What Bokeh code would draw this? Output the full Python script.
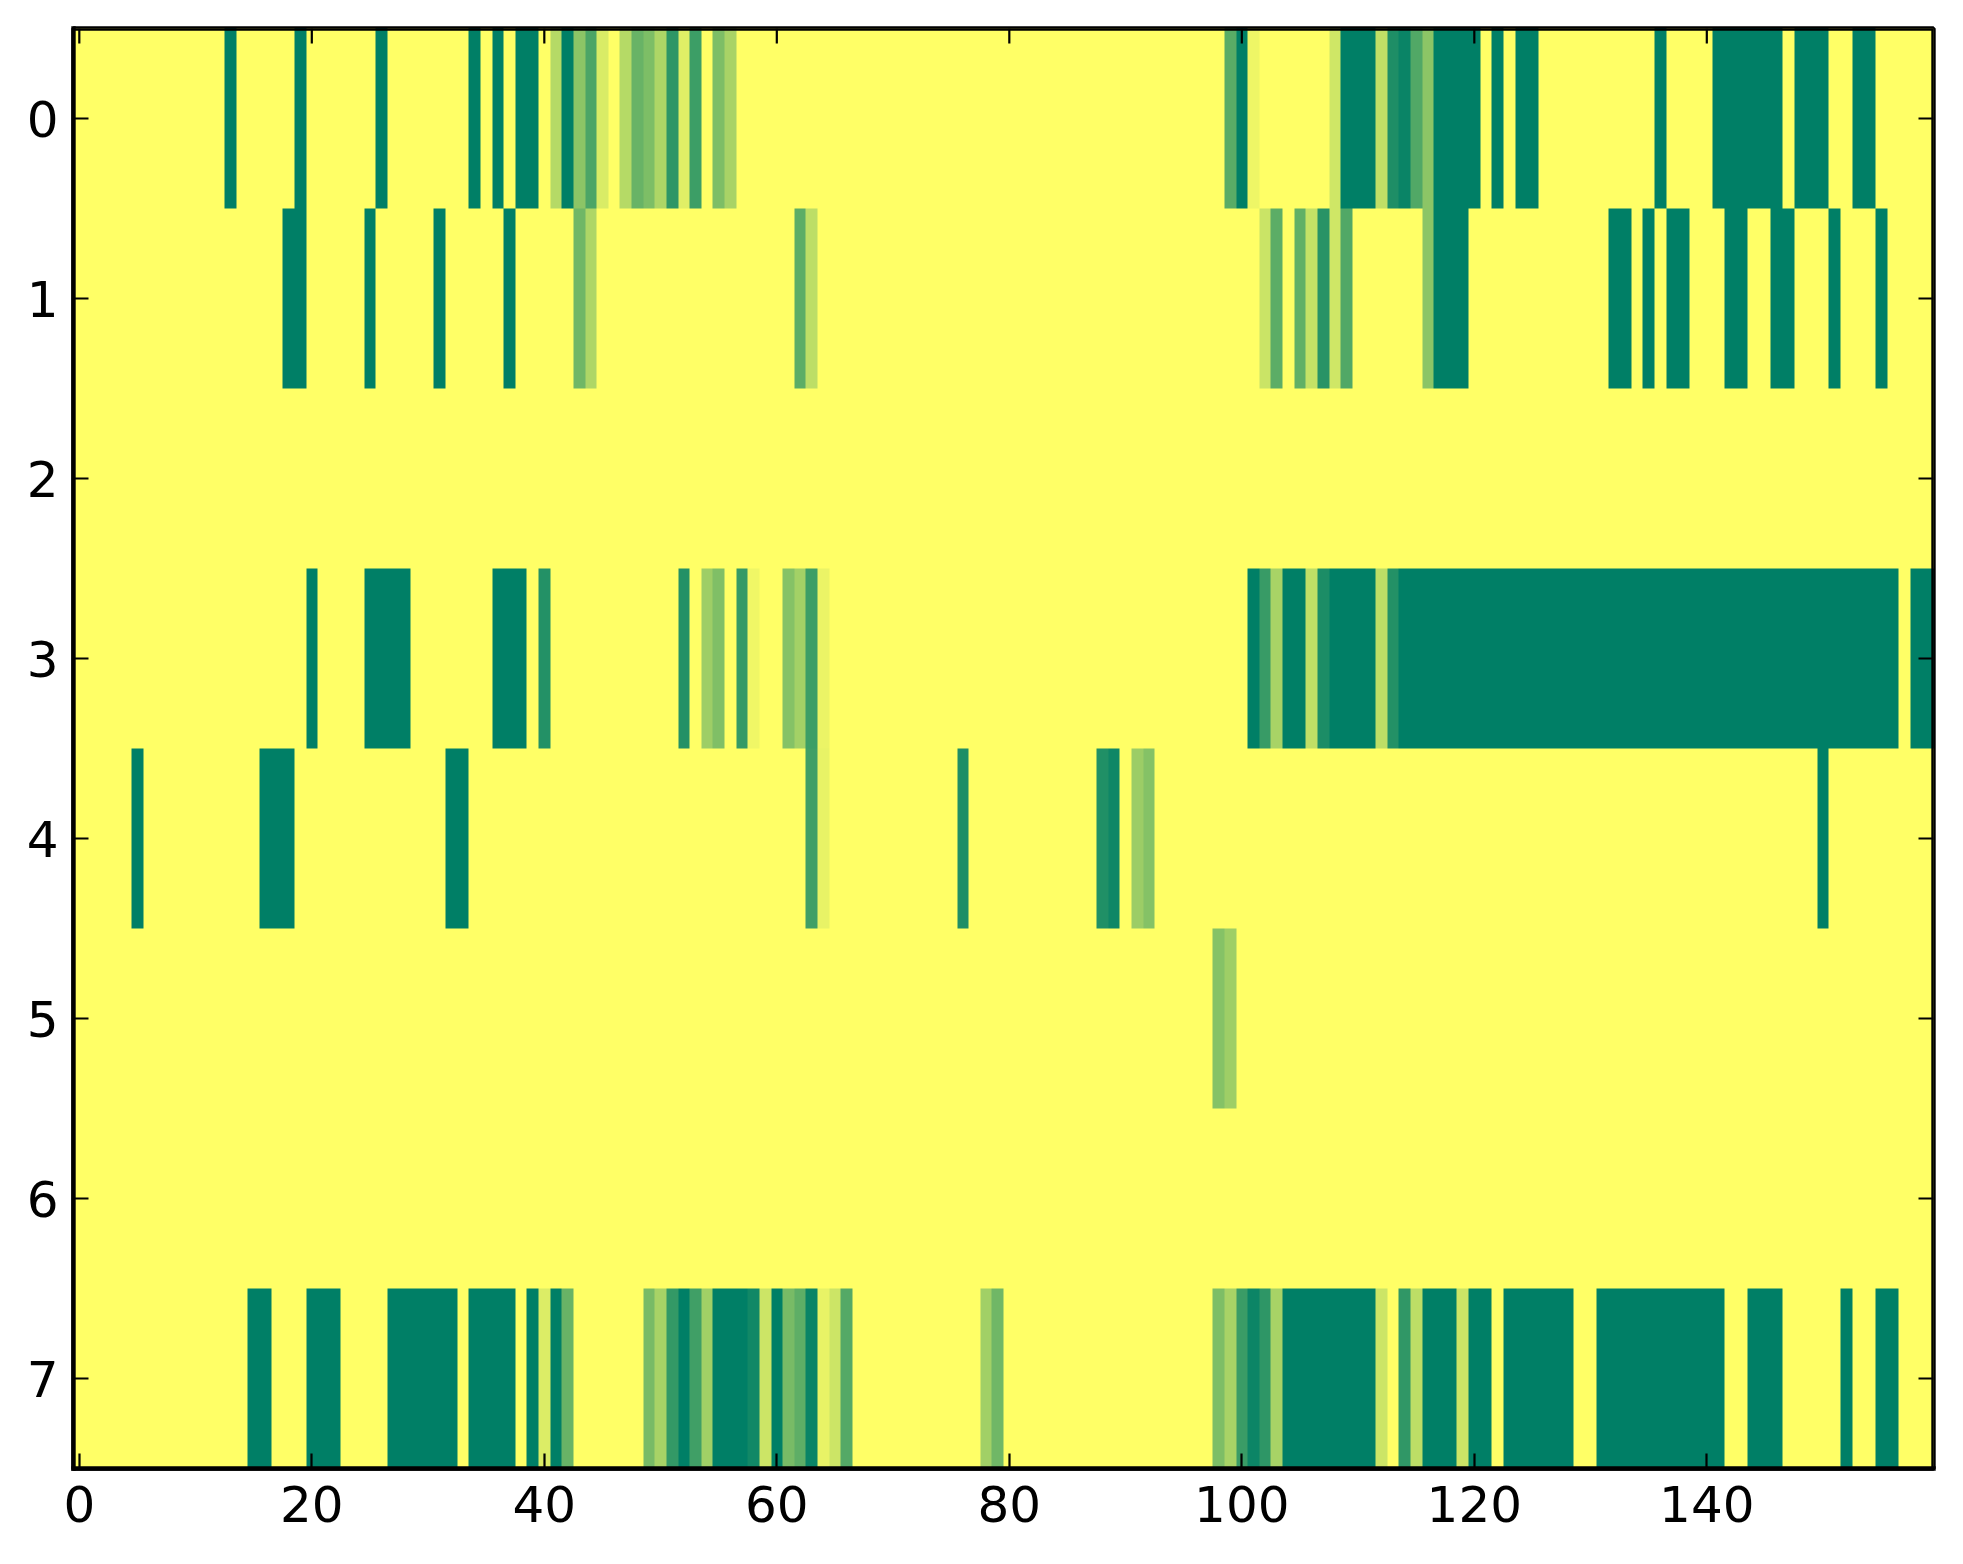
import numpy as np
from bokeh.plotting import figure
from bokeh.models import Range1d, LinearAxis, FixedTicker, LinearColorMapper
from bokeh.embed import file_html
from bokeh.resources import INLINE

N_COLS = 160
N_ROWS = 8
x_ticks = [0, 20, 40, 60, 80, 100, 120, 140]
y_ticks = [0, 1, 2, 3, 4, 5, 6, 7]

# (column, intensity) pairs per row; all other columns are 0
row_0 = [(13, 1), (19, 1), (26, 1), (34, 1), (36, 1), (38, 1), (39, 1), (41, .29), (42, 1),
         (43, .45), (44, .70), (45, .15), (47, .29), (48, .59), (49, .51), (50, .32), (51, .82),
         (52, .125), (53, .76), (55, .51), (56, .34), (99, .65), (100, 1), (101, .07), (108, .19),
         (109, 1), (110, 1), (111, 1), (112, .25), (113, .88), (114, .96), (115, .68), (116, .45),
         (117, 1), (118, 1), (119, 1), (120, 1), (122, 1), (124, 1), (125, 1), (136, 1),
         (141, 1), (142, 1), (143, 1), (144, 1), (145, 1), (146, 1), (148, 1), (149, 1), (150, 1),
         (153, 1), (154, 1)]
row_1 = [(18, 1), (19, 1), (25, 1), (31, 1), (37, 1), (43, .56), (44, .32), (62, .64), (63, .26),
         (102, .21), (103, .64), (105, .62), (106, .23), (107, .84), (108, .19), (109, .68),
         (116, .45), (117, 1), (118, 1), (119, 1), (132, 1), (133, 1), (135, 1), (137, 1), (138, 1),
         (142, 1), (143, 1), (146, 1), (147, 1), (151, 1), (155, 1)]
row_2 = []
row_3 = [(20, 1), (25, 1), (26, 1), (27, 1), (28, 1), (36, 1), (37, 1), (38, 1), (40, .86), (52, .86),
         (54, .38), (55, .50), (57, .79), (58, .06), (61, .48), (62, .36), (63, .76), (64, .08),
         (101, 1), (102, .78), (103, .34), (104, 1), (105, 1), (106, .25), (107, .89), (108, 1),
         (109, 1), (110, 1), (111, 1), (112, .26), (113, .86)] + [(c, 1) for c in
         [114, 115, 116, 117, 118, 119, 120, 121, 122, 123, 124, 125, 126, 127, 128, 129, 130,
          131, 132, 133, 134, 135, 136, 137, 138, 139, 140, 141, 142, 143, 144, 145, 146, 147,
          148, 149, 150, 151, 152, 153, 154, 155, 156, 158, 159]]
row_4 = [(5, 1), (16, 1), (17, 1), (18, 1), (32, 1), (33, 1), (63, .75), (64, .09), (76, .88),
         (88, .87), (89, .94), (91, .39), (92, .48), (150, 1)]
row_5 = [(98, .48), (99, .38)]
row_6 = []
row_7 = [(15, 1), (16, 1), (20, 1), (21, 1), (22, 1), (27, 1), (28, 1), (29, 1), (30, 1), (31, 1),
         (32, 1), (34, 1), (35, 1), (36, 1), (37, 1), (39, 1), (40, .14), (41, 1), (42, .59),
         (49, .53), (50, .34), (51, .80), (52, 1), (53, .75), (54, .37), (55, 1), (56, 1), (57, 1),
         (58, .93), (59, .20), (60, 1), (61, .53), (62, .63), (63, .96), (64, .09), (65, .20),
         (66, .67), (78, .37), (79, .56), (98, .51), (99, .34), (100, .77), (101, .95), (102, .82),
         (103, .34), (104, 1), (105, 1), (106, 1), (107, 1), (108, 1), (109, 1), (110, 1), (111, 1),
         (112, .20), (114, .81), (115, .26), (116, 1), (117, 1), (118, 1), (119, .20), (120, 1),
         (121, 1), (123, 1), (124, 1), (125, 1), (126, 1), (127, 1), (128, 1), (131, 1), (132, 1),
         (133, 1), (134, 1), (135, 1), (136, 1), (137, 1), (138, 1), (139, 1), (140, 1), (141, 1),
         (144, 1), (145, 1), (146, 1), (152, 1), (155, 1), (156, 1)]
rows = [row_0, row_1, row_2, row_3, row_4, row_5, row_6, row_7]

matrix = np.zeros((N_ROWS, N_COLS))
for r, pairs in enumerate(rows):
    for c, v in pairs:
        matrix[r, c] = v

# matplotlib "summer_r"
palette = ["#%02x%02x66" % (int(255 * t), int(255 * (0.5 + t / 2))) for t in np.linspace(0, 1, 256)]
mapper = LinearColorMapper(palette=palette, low=1, high=0)

FONT = "DejaVu Sans"
SIZE = "50px"
X0, X1 = -0.5, 159.5
Y0, Y1 = 7.5, -0.5
FRAME_W, FRAME_H = 1860, 1440
TICK_PX = 15
TICK_W = 2.2
SPINE_W = 4.4

p = figure(width=1955, height=1556, output_backend="svg", toolbar_location=None,
           x_range=Range1d(X0, X1), y_range=Range1d(Y0, Y1),
           x_axis_location=None, y_axis_location=None,
           min_border_left=73, min_border_right=22, min_border_top=28, min_border_bottom=88,
           background_fill_color="#ffff66", border_fill_color="white")
p.grid.visible = False
p.outline_line_color = "black"
p.outline_line_width = SPINE_W
p.image(image=[matrix], x=-0.5, y=-0.5, dw=N_COLS, dh=N_ROWS, color_mapper=mapper)


def style(ax, ticks, standoff):
    ax.ticker = FixedTicker(ticks=ticks)
    ax.major_tick_in = TICK_PX
    ax.major_tick_out = 0
    ax.minor_tick_line_color = None
    ax.major_tick_line_color = "black"
    ax.major_tick_line_width = TICK_W
    ax.axis_line_color = "black"
    ax.axis_line_width = SPINE_W
    ax.axis_line_cap = "square"
    ax.major_label_text_font = FONT
    ax.major_label_text_color = "black"
    ax.major_label_text_font_size = SIZE
    ax.major_label_standoff = standoff


bottom = LinearAxis(); style(bottom, x_ticks, 17)
left = LinearAxis(); style(left, y_ticks, 15)
p.add_layout(bottom, "below")
p.add_layout(left, "left")

# top and right: tick marks only, no labels
dy = TICK_PX / FRAME_H * (Y0 - Y1)
dx = TICK_PX / FRAME_W * (X1 - X0)
p.segment(x0=x_ticks, x1=x_ticks, y0=[Y1] * len(x_ticks), y1=[Y1 + dy] * len(x_ticks),
          line_color="black", line_width=TICK_W)
p.segment(x0=[X1] * len(y_ticks), x1=[X1 - dx] * len(y_ticks), y0=y_ticks, y1=y_ticks,
          line_color="black", line_width=TICK_W)
# inner half of the top and right spines (the outline lies under the image)
p.segment(x0=[X0, X1], x1=[X1, X1], y0=[Y1, Y1], y1=[Y1, Y0], line_color="black",
          line_width=SPINE_W)

open("out.html", "w").write(file_html(p, INLINE))
